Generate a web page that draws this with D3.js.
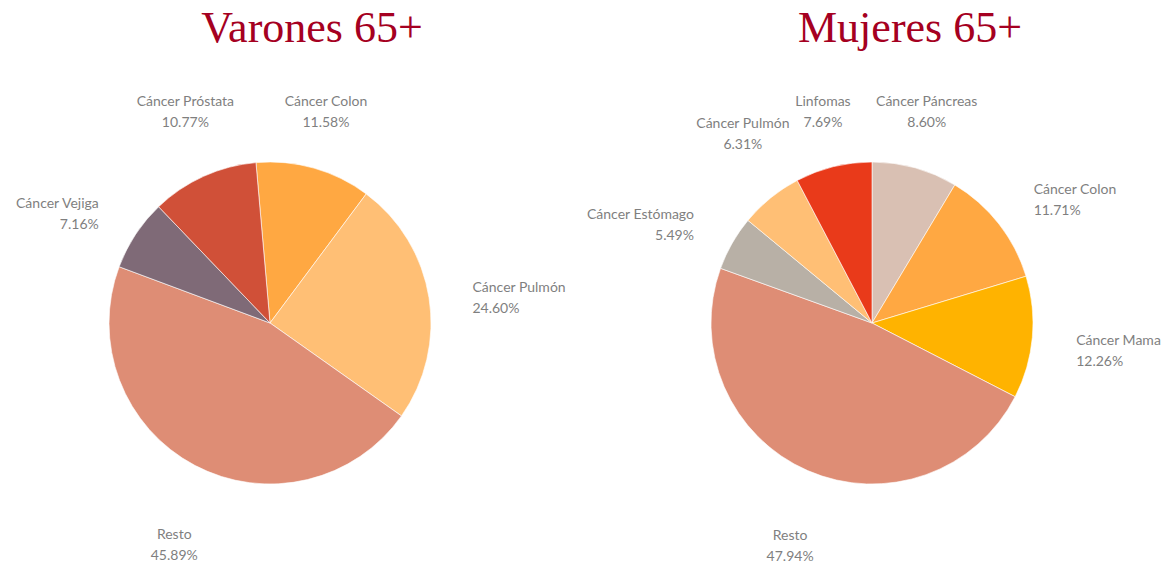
<!DOCTYPE html>
<html>
<head>
<meta charset="utf-8">
<script src="https://cdn.jsdelivr.net/npm/d3@7"></script>
<style>
  body { margin: 0; background: #fff; }
  svg { display: block; }
</style>
</head>
<body>
<svg id="chart"></svg>
<script>
// Varones 65+ (clockwise from top)
const menLabels = ["Cáncer Colon", "Cáncer Pulmón", "Resto", "Cáncer Vejiga", "Cáncer Próstata"];
const menValues = [11.58, 24.60, 45.89, 7.16, 10.77];
const menColors = ["#FFA842", "#FFBF75", "#DE8D75", "#7F6A77", "#D05038"];

// Mujeres 65+ (clockwise from top)
const womenLabels = ["Cáncer Páncreas", "Cáncer Colon", "Cáncer Mama", "Resto", "Cáncer Estómago", "Cáncer Pulmón", "Linfomas"];
const womenValues = [8.60, 11.71, 12.26, 47.94, 5.49, 6.31, 7.69];
const womenColors = ["#D9C0B3", "#FFA842", "#FFB300", "#DE8D75", "#B8B0A6", "#FFBF75", "#E93A1A"];

const width = 1173;
const height = 564;

const svg = d3.select("#chart")
  .attr("width", width)
  .attr("height", height);

const radius = 161;
const cy = 323;
const labelTop = 111;    // label blocks never go above this line
const labelBottom = 545; // ...or below this one

function drawPie(title, labels, values, colors, cx, titleX, rotation) {
  const data = labels.map((l, i) => ({ label: l, value: values[i], color: colors[i] }));

  const pie = d3.pie()
    .sort(null)
    .value(d => d.value)
    .startAngle(rotation)
    .endAngle(rotation + 2 * Math.PI);

  const arc = d3.arc().innerRadius(0).outerRadius(radius);

  const g = svg.append("g").attr("transform", `translate(${cx},${cy})`);

  g.selectAll("path")
    .data(pie(data))
    .join("path")
    .attr("d", arc)
    .attr("fill", d => d.data.color)
    .attr("stroke", "#fff")
    .attr("stroke-width", 0.6);

  // data labels, placed outside around the slice's mid angle (best fit-ish)
  g.selectAll("text.lbl")
    .data(pie(data))
    .join("text")
    .attr("class", "lbl")
    .attr("font-family", "Lato, 'Open Sans', sans-serif")
    .attr("font-size", 14)
    .attr("fill", "#7F7F7F")
    .each(function(d) {
      const a = (d.startAngle + d.endAngle) / 2;
      const s = Math.sin(a), c = Math.cos(a);
      const anchor = s > 0.7 ? "start" : (s < -0.7 ? "end" : "middle");
      const x = 205 * s;
      let y;
      if (anchor === "middle") {
        y = c > 0 ? Math.max(labelTop - cy, -245 * c) : Math.min(labelBottom - cy, -250 * c);
      } else {
        y = -215 * c + 8;
      }
      const t = d3.select(this).attr("text-anchor", anchor);
      t.append("tspan").attr("x", x).attr("y", y - 5).text(d.data.label);
      t.append("tspan").attr("x", x).attr("y", y + 16).text(d.data.value.toFixed(2) + "%");
    });

  svg.append("text")
    .attr("x", titleX)
    .attr("y", 42)
    .attr("text-anchor", "middle")
    .attr("font-family", "'Liberation Serif', 'Times New Roman', serif")
    .attr("font-size", 44)
    .attr("fill", "#A50021")
    .text(title);
}

drawPie("Varones 65+", menLabels, menValues, menColors, 270, 312, -5 * Math.PI / 180);
drawPie("Mujeres 65+", womenLabels, womenValues, womenColors, 872, 910, 0);
</script>
</body>
</html>
